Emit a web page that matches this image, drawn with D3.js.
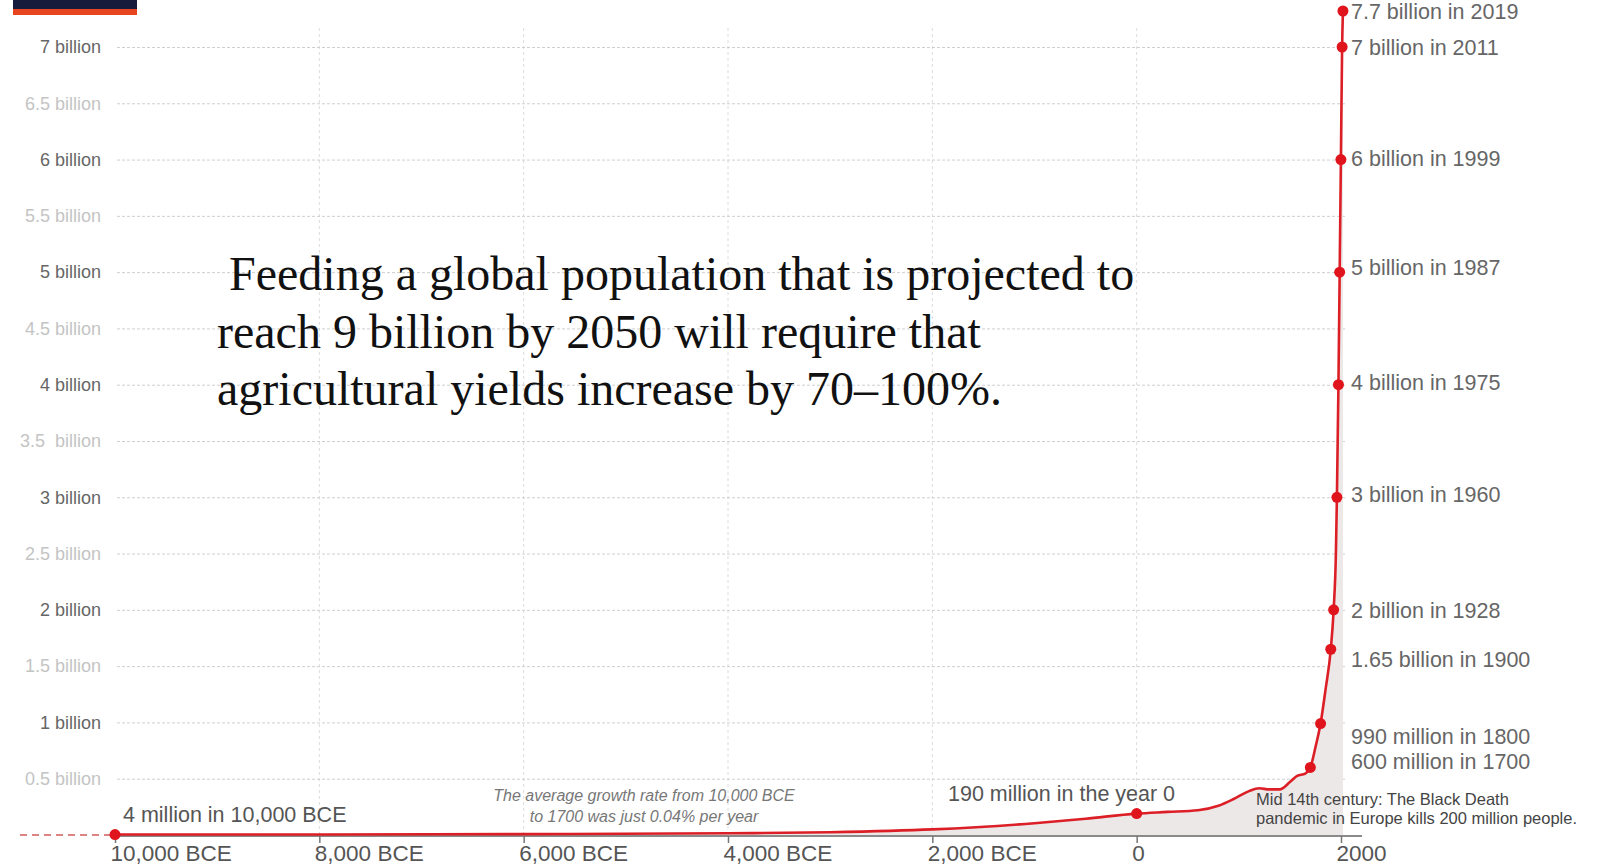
<!DOCTYPE html>
<html>
<head>
<meta charset="utf-8">
<script src="https://cdn.jsdelivr.net/npm/d3@7"></script>
<style>
  html, body { margin: 0; padding: 0; background: #fff; }
  svg { display: block; }
  text { font-family: "Liberation Sans", Arial, Helvetica, sans-serif; }
</style>
</head>
<body>
<svg id="chart" width="1601" height="867"></svg>
<script>
// World population, 10,000 BCE to 2019
const years = [-10000, -8000, -6000, -4000, -3000, -2000, -1000, -500, 0, 300, 600, 800, 950, 1100, 1200, 1300, 1400, 1500, 1570, 1650, 1700, 1750, 1800, 1850, 1900, 1928, 1950, 1960, 1975, 1987, 1999, 2011, 2019];
const population = [4e6, 5e6, 8e6, 15e6, 25e6, 50e6, 105e6, 145e6, 190e6, 205e6, 220e6, 260e6, 320e6, 390e6, 415e6, 405e6, 405e6, 470e6, 525e6, 545e6, 600e6, 780e6, 990e6, 1.3e9, 1.65e9, 2e9, 2.5e9, 3e9, 4e9, 5e9, 6e9, 7e9, 7.7e9];

// Milestones marked with a dot
const milestoneYears = [-10000, 0, 1700, 1800, 1900, 1928, 1960, 1975, 1987, 1999, 2011, 2019];
const milestoneValues = [4e6, 190e6, 600e6, 990e6, 1.65e9, 2e9, 3e9, 4e9, 5e9, 6e9, 7e9, 7.7e9];
const milestoneLabels = ["4 million in 10,000 BCE", "190 million in the year 0", "600 million in 1700", "990 million in 1800", "1.65 billion in 1900", "2 billion in 1928", "3 billion in 1960", "4 billion in 1975", "5 billion in 1987", "6 billion in 1999", "7 billion in 2011", "7.7 billion in 2019"];

// Axes
const xTicks = [-10000, -8000, -6000, -4000, -2000, 0, 2000];
const xTickLabels = ["10,000 BCE", "8,000 BCE", "6,000 BCE", "4,000 BCE", "2,000 BCE", "0", "2000"];
const yTicks = [7e9, 6.5e9, 6e9, 5.5e9, 5e9, 4.5e9, 4e9, 3.5e9, 3e9, 2.5e9, 2e9, 1.5e9, 1e9, 0.5e9];
const yTickLabels = ["7 billion", "6.5 billion", "6 billion", "5.5 billion", "5 billion", "4.5 billion", "4 billion", "3.5  billion", "3 billion", "2.5 billion", "2 billion", "1.5 billion", "1 billion", "0.5 billion"];

const headline = [
  "Feeding a global population that is projected to",
  "reach 9 billion by 2050 will require that",
  "agricultural yields increase by 70–100%."
];
const noteGrowth = ["The average growth rate from 10,000 BCE", "to 1700 was just 0.04% per year"];
const noteBlackDeath = ["Mid 14th century: The Black Death", "pandemic in Europe kills 200 million people."];

const svg = d3.select("#chart");
const red = "#dc1f26";

const x = d3.scaleLinear().domain([-10000, 2000]).range([115, 1341]);
// the top of the axis is compressed above 7 billion
const y = d3.scaleLinear().domain([0, 7e9, 7.7e9]).range([835, 47, 11]);

// header stripe
svg.append("rect").attr("x", 13).attr("y", 0).attr("width", 124).attr("height", 9).attr("fill", "#161b3b");
svg.append("rect").attr("x", 13).attr("y", 9).attr("width", 124).attr("height", 6).attr("fill", "#e6451f");

// vertical grid
svg.append("g").selectAll("line")
  .data(xTicks.filter(d => d > -10000 && d < 2000))
  .join("line")
  .attr("x1", d => x(d)).attr("x2", d => x(d))
  .attr("y1", 28).attr("y2", y(0))
  .attr("stroke", "#dcdcdc").attr("stroke-width", 1).attr("stroke-dasharray", "3,3");

// y axis with horizontal grid lines
const gridLeft = 117, gridRight = 1347;
const yAxis = svg.append("g")
  .attr("transform", `translate(${gridLeft},0)`)
  .call(d3.axisLeft(y).tickValues(yTicks)
    .tickFormat((d, i) => yTickLabels[i])
    .tickSizeInner(-(gridRight - gridLeft)).tickSizeOuter(0).tickPadding(16));
yAxis.select(".domain").remove();
yAxis.selectAll(".tick line")
  .attr("stroke", "#cfcfcf").attr("stroke-dasharray", "3,2");
yAxis.selectAll(".tick text")
  .attr("font-size", 18)
  .style("white-space", "pre")
  .attr("fill", (d, i) => i % 2 === 0 ? "#666" : "#c4c4c4")
  .attr("font-family", null);

// area under the curve
const area = d3.area().x((d, i) => x(years[i])).y0(y(0)).y1((d, i) => y(population[i])).curve(d3.curveMonotoneX);
svg.append("path").datum(population).attr("d", area).attr("fill", "#ece8e8");

// x axis
svg.append("line").attr("x1", x(-10000)).attr("x2", 1362).attr("y1", y(0) + 1).attr("y2", y(0) + 1)
  .attr("stroke", "#8a8a8a").attr("stroke-width", 2);
const xAxis = svg.append("g")
  .attr("transform", `translate(0,${y(0) + 1})`)
  .call(d3.axisBottom(x).tickValues(xTicks)
    .tickFormat((d, i) => xTickLabels[i]).tickSizeInner(7).tickSizeOuter(0));
xAxis.select(".domain").remove();
xAxis.selectAll(".tick line").attr("stroke", "#777").attr("stroke-width", 1.5);
xAxis.selectAll(".tick text")
  .attr("font-size", 22.5).attr("fill", "#555")
  .attr("text-anchor", "start").attr("dx", -5)
  .attr("y", 25).attr("dy", 0)
  .attr("font-family", null);

// dashed lead-in before 10,000 BCE
svg.append("line").attr("x1", 20).attr("x2", x(-10000)).attr("y1", y(0)).attr("y2", y(0))
  .attr("stroke", "#d45a5a").attr("stroke-width", 1.5).attr("stroke-dasharray", "7,5");

// population line
const line = d3.line().x((d, i) => x(years[i])).y(d => y(d)).curve(d3.curveMonotoneX);
svg.append("path").datum(population).attr("d", line)
  .attr("fill", "none").attr("stroke", red).attr("stroke-width", 2.6).attr("stroke-linejoin", "round");

// milestone dots
svg.append("g").selectAll("circle")
  .data(milestoneYears)
  .join("circle")
  .attr("cx", d => x(d)).attr("cy", (d, i) => y(milestoneValues[i]))
  .attr("r", 5.5).attr("fill", "#e0141c");

// milestone labels on the right
const labelNudge = {1700: -6, 1800: 13, 1900: 10, 1960: -3, 1975: -2, 1987: -5, 1999: -1};
svg.append("g").selectAll("text")
  .data(milestoneYears.map((d, i) => i).filter(i => milestoneYears[i] >= 1700))
  .join("text")
  .attr("x", 1351)
  .attr("y", i => y(milestoneValues[i]) + (labelNudge[milestoneYears[i]] || 0))
  .attr("dy", "0.36em")
  .attr("font-size", 21.5).attr("fill", "#666")
  .text(i => milestoneLabels[i]);

// early milestone labels
svg.append("text").attr("x", 123).attr("y", 822)
  .attr("font-size", 21.5).attr("fill", "#555").text(milestoneLabels[0]);
svg.append("text").attr("x", 948).attr("y", 801)
  .attr("font-size", 21.5).attr("fill", "#555").text(milestoneLabels[1]);

// notes
svg.append("g").selectAll("text").data(noteGrowth).join("text")
  .attr("x", 644).attr("y", (d, i) => 801 + i * 20.5)
  .attr("text-anchor", "middle").attr("font-style", "italic")
  .attr("font-size", 16).attr("fill", "#777")
  .text(d => d);
svg.append("g").selectAll("text").data(noteBlackDeath).join("text")
  .attr("x", 1256).attr("y", (d, i) => 804.5 + i * 19.5)
  .attr("font-size", 16.5).attr("fill", "#444")
  .text(d => d);

// headline
svg.append("g").selectAll("text").data(headline).join("text")
  .attr("x", (d, i) => i === 0 ? 229 : 217)
  .attr("y", (d, i) => 290 + i * 57.5)
  .style("font-family", '"Liberation Serif", "Times New Roman", Times, serif')
  .attr("font-size", 48).attr("fill", "#111")
  .text(d => d);
</script>
</body>
</html>
